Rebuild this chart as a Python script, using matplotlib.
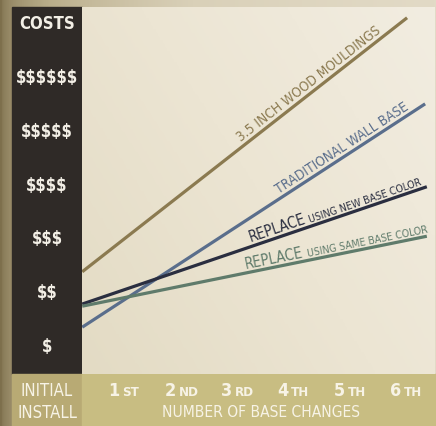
import numpy as np
import matplotlib
matplotlib.use('Agg')
import matplotlib.pyplot as plt
from matplotlib.patches import Rectangle
from matplotlib.colors import LinearSegmentedColormap
import matplotlib.transforms as mtransforms

# Data (cost level 1 = "$" ... 6 = "$$$$$$"; x = number of base changes)
x_start = [0.33, 0.33, 0.33, 0.33]
x_end = [6.09, 6.41, 6.44, 6.44]
cost_start = [2.38, 1.35, 1.78, 1.74]
cost_end = [7.10, 5.50, 3.96, 3.04]
colors = ['#8b7a50', '#5a6e8c', '#2a2e40', '#5f7b6b']

cost_labels = ['$', '$$', '$$$', '$$$$', '$$$$$', '$$$$$$', 'COSTS']
change_nums = ['1', '2', '3', '4', '5', '6']
change_suffix = ['ST', 'ND', 'RD', 'TH', 'TH', 'TH']

plt.rcParams['font.family'] = ['DejaVu Sans']
plt.rcParams['font.stretch'] = 'condensed'

W, H = 436, 427
fig = plt.figure(figsize=(W / 100, H / 100), dpi=100)

def fx(px):
    return px / W

def fy(py):
    return 1 - py / H

# Background (smooth gradient in place of the photo texture)
bg = fig.add_axes([0, 0, 1, 1], zorder=0)
bg.set_axis_off()
cmap_bg = LinearSegmentedColormap.from_list('bg', ['#7d6f4c', '#b9ad8a', '#d9d0b8', '#e2dac6'])
gx = np.linspace(0, 1, 200)
grad = np.tile(np.sqrt(gx), (50, 1))
bg.imshow(grad, cmap=cmap_bg, aspect='auto', extent=[0, 1, 0, 1])
bg.set_xlim(0, 1)
bg.set_ylim(0, 1)

# Dark cost panel and bottom band
fig.patches.append(Rectangle((fx(12), fy(375)), fx(82) - fx(12), fy(8) - fy(375),
                             transform=fig.transFigure, color='#2f2a27', zorder=1))
fig.patches.append(Rectangle((fx(12), 0), fx(82) - fx(12), fy(375),
                             transform=fig.transFigure, color='#b8aa74', zorder=1))
fig.patches.append(Rectangle((fx(82), 0), 1 - fx(82), fy(375),
                             transform=fig.transFigure, color='#c8bd82', zorder=1))

# Main plot area
ax = fig.add_axes([fx(82), fy(375), fx(435) - fx(82), fy(8) - fy(375)], zorder=2)
ax.set_xlim(0.326, 6.585)
ax.set_ylim(0.48, 7.30)
for s in ax.spines.values():
    s.set_visible(False)
ax.set_xticks([])
ax.set_yticks([])

cmap_pa = LinearSegmentedColormap.from_list('pa', ['#e3dbc4', '#ece5d3', '#f2ede1'])
px_ = np.linspace(0, 1, 200)
py_ = np.linspace(0, 1, 100)[:, None]
pa = 0.6 * px_[None, :] + 0.4 * py_
ax.imshow(pa, cmap=cmap_pa, aspect='auto', extent=[0.326, 6.585, 0.48, 7.30],
          origin='lower', zorder=0)

for i in range(4):
    ax.plot([x_start[i], x_end[i]], [cost_start[i], cost_end[i]],
            color=colors[i], lw=2.3, solid_capstyle='butt', zorder=3)

fig.canvas.draw()

def angle_of(i):
    p1 = ax.transData.transform((x_start[i], cost_start[i]))
    p2 = ax.transData.transform((x_end[i], cost_end[i]))
    return np.degrees(np.arctan2(p2[1] - p1[1], p2[0] - p1[0]))

def on_line(i, x):
    t = (x - x_start[i]) / (x_end[i] - x_start[i])
    return x, cost_start[i] + t * (cost_end[i] - cost_start[i])

def line_label(i, x, text, size, gap=1.5):
    ang = angle_of(i)
    r = np.radians(ang)
    ax.annotate(text, xy=on_line(i, x), xytext=(-np.sin(r) * gap, np.cos(r) * gap),
                textcoords='offset points', rotation=ang, rotation_mode='anchor',
                ha='center', va='bottom', color=colors[i], fontsize=size,
                fontstretch='condensed', zorder=4)

line_label(0, 4.45, '3.5 INCH WOOD MOULDINGS', 9.8)
line_label(1, 5.02, 'TRADITIONAL WALL BASE', 9.8)
line_label(2, 3.84, 'REPLACE', 10.5)
line_label(2, 5.38, 'USING NEW BASE COLOR', 7.6)
line_label(3, 3.76, 'REPLACE', 10.5)
line_label(3, 5.42, 'USING SAME BASE COLOR', 7.6)

# Cost labels in the dark panel
ytrans = mtransforms.blended_transform_factory(ax.transAxes, ax.transData)
xc = (47 - 82) / (435 - 82)
for k, lab in enumerate(cost_labels):
    ax.text(xc, k + 1, lab, transform=ytrans, ha='center', va='center',
            color='#f3efe6', fontsize=12, fontweight='bold', clip_on=False,
            parse_math=False)

# Bottom band labels
xtrans = mtransforms.blended_transform_factory(ax.transData, ax.transAxes)
hb = 375 - 8
yb1 = -(391 - 375) / hb
yb2 = -(413 - 375) / hb
for k in range(6):
    ax.annotate(change_nums[k], xy=(k + 1, yb1), xycoords=xtrans, xytext=(-0.5, 0),
                textcoords='offset points', ha='right', va='center', color='#f7f3e6',
                fontsize=13, fontweight='bold', annotation_clip=False)
    ax.annotate(change_suffix[k], xy=(k + 1, yb1), xycoords=xtrans, xytext=(1.5, -1),
                textcoords='offset points', ha='left', va='center', color='#f7f3e6',
                fontsize=9.5, fontweight='bold', annotation_clip=False)
ax.text(3.5, yb2, 'NUMBER OF BASE CHANGES', transform=xtrans, ha='center', va='center',
        color='#f7f3e6', fontsize=11.2, clip_on=False)
ax.text(xc, yb1, 'INITIAL', transform=ax.transAxes, ha='center', va='center',
        color='#f7f3e6', fontsize=12, clip_on=False)
ax.text(xc, yb2, 'INSTALL', transform=ax.transAxes, ha='center', va='center',
        color='#f7f3e6', fontsize=12, clip_on=False)

fig.savefig('out.png', dpi=100)
